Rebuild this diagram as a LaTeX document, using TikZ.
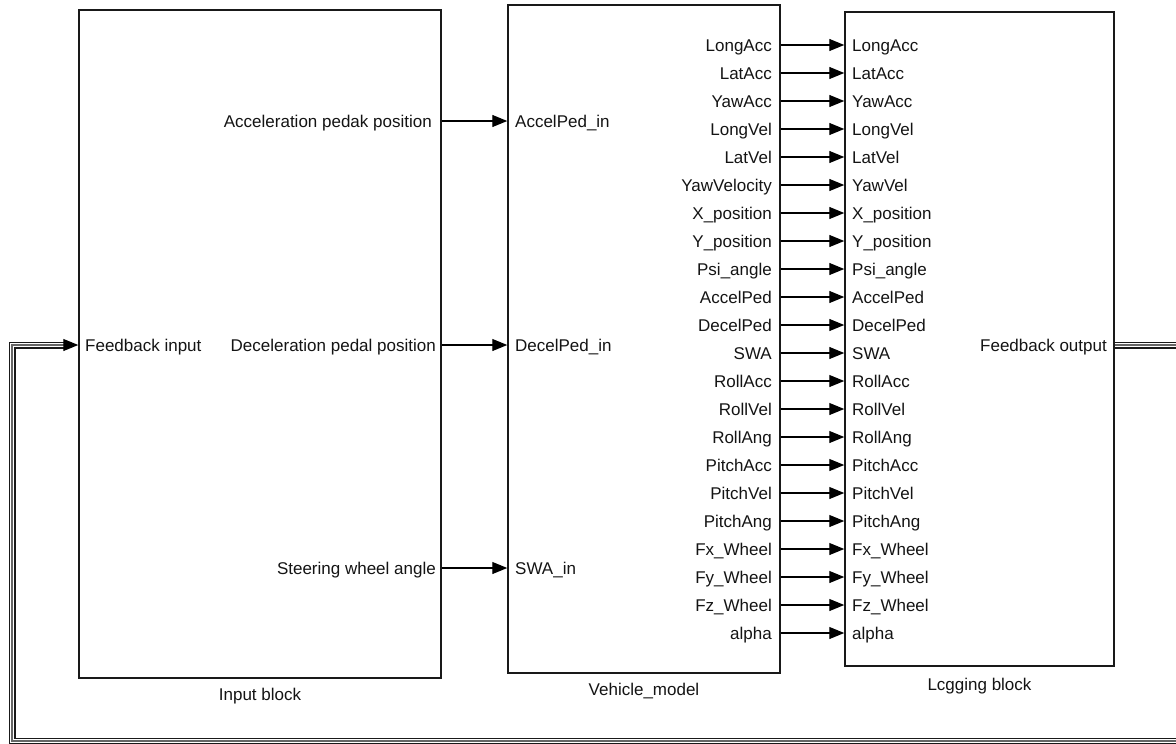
\documentclass[tikz,border=0pt]{standalone}
\usepackage{fontspec}
\setmainfont{Liberation Sans}
\usetikzlibrary{arrows.meta}
\begin{document}
\begin{tikzpicture}[x=1pt,y=-1pt,
  block/.style={draw=black!90,line width=1.5pt,rectangle,inner sep=0pt},
  lbl/.style={inner sep=0pt,font=\fontsize{17}{20}\selectfont,text=black!92},
  sig/.style={draw=black,line width=1.2pt,-{Triangle[length=15pt,width=12pt]}},
  bus/.style={draw=black!90,line width=7pt,line join=miter,
    postaction={draw=white,line width=4.2pt,
      postaction={draw=black!60,line width=1.4pt}}}]
\useasboundingbox (0,0) rectangle (1176,744);
\clip (0,0) rectangle (1176,744);
\fill[white] (0,0) rectangle (1176,744);
% blocks
\node[block,minimum width=362pt,minimum height=668pt] (inp) at (260,344) {};
\node[block,minimum width=272pt,minimum height=668pt] (vm) at (644,339) {};
\node[block,minimum width=269pt,minimum height=654pt] (lg) at (979.5,339) {};
% block names
\node[lbl] (inpname) at ([yshift=-17pt]inp.south) {Input block};
\node[lbl] (vmname) at ([yshift=-17pt]vm.south) {Vehicle\_model};
\node[lbl] (lgname) at ([yshift=-19pt]lg.south) {Lcgging block};
% input block ports
\node[lbl,anchor=base west] (fbin) at (85,351) {Feedback input};
\node[lbl,anchor=base east] (io1) at (432,127) {Acceleration pedak position};
\node[lbl,anchor=base east] (io2) at (436,351) {Deceleration pedal position};
\node[lbl,anchor=base east] (io3) at (436,574) {Steering wheel angle};
\node[lbl,anchor=base west] (vi1) at (515,127) {AccelPed\_in};
\node[lbl,anchor=base west] (vi2) at (515,351) {DecelPed\_in};
\node[lbl,anchor=base west] (vi3) at (515,574) {SWA\_in};
\coordinate (r1) at (0,121);
\coordinate (r2) at (0,345);
\coordinate (r3) at (0,568);
\foreach \i in {1,2,3}{
  \draw[sig] (inp.east |- r\i) -- (vm.west |- r\i);
}
% vehicle model outputs and logging inputs
\foreach [count=\i] \a/\b in {LongAcc/LongAcc,LatAcc/LatAcc,YawAcc/YawAcc,LongVel/LongVel,LatVel/LatVel,YawVelocity/YawVel,X\_position/X\_position,Y\_position/Y\_position,Psi\_angle/Psi\_angle,AccelPed/AccelPed,DecelPed/DecelPed,SWA/SWA,RollAcc/RollAcc,RollVel/RollVel,RollAng/RollAng,PitchAcc/PitchAcc,PitchVel/PitchVel,PitchAng/PitchAng,Fx\_Wheel/Fx\_Wheel,Fy\_Wheel/Fy\_Wheel,Fz\_Wheel/Fz\_Wheel,alpha/alpha}{
  \pgfmathsetmacro{\yy}{45+28*(\i-1)}
  \coordinate (row\i) at (0,\yy);
  \node[lbl,anchor=base east] (vo\i) at (772,\yy+6) {\a};
  \node[lbl,anchor=base west] (li\i) at (852,\yy+6) {\b};
  \draw[sig] (vm.east |- row\i) -- (lg.west |- row\i);
}
% feedback
\node[lbl,anchor=base east] (fbout) at (1107,351) {Feedback output};
\coordinate (fbrow) at (0,345);
\coordinate (busR) at (1200,345);
\coordinate (busRB) at (1200,741);
\coordinate (busLB) at (12,741);
\coordinate (busLT) at (12,345);
\coordinate (busEnd) at (65,345);
\draw[bus] (lg.east |- fbrow) -- (busR) -- (busRB) -- (busLB) -- (busLT) -- (busEnd);
\draw[sig] ([xshift=-1pt]busEnd) -- (inp.west |- fbrow);
\end{tikzpicture}
\end{document}
